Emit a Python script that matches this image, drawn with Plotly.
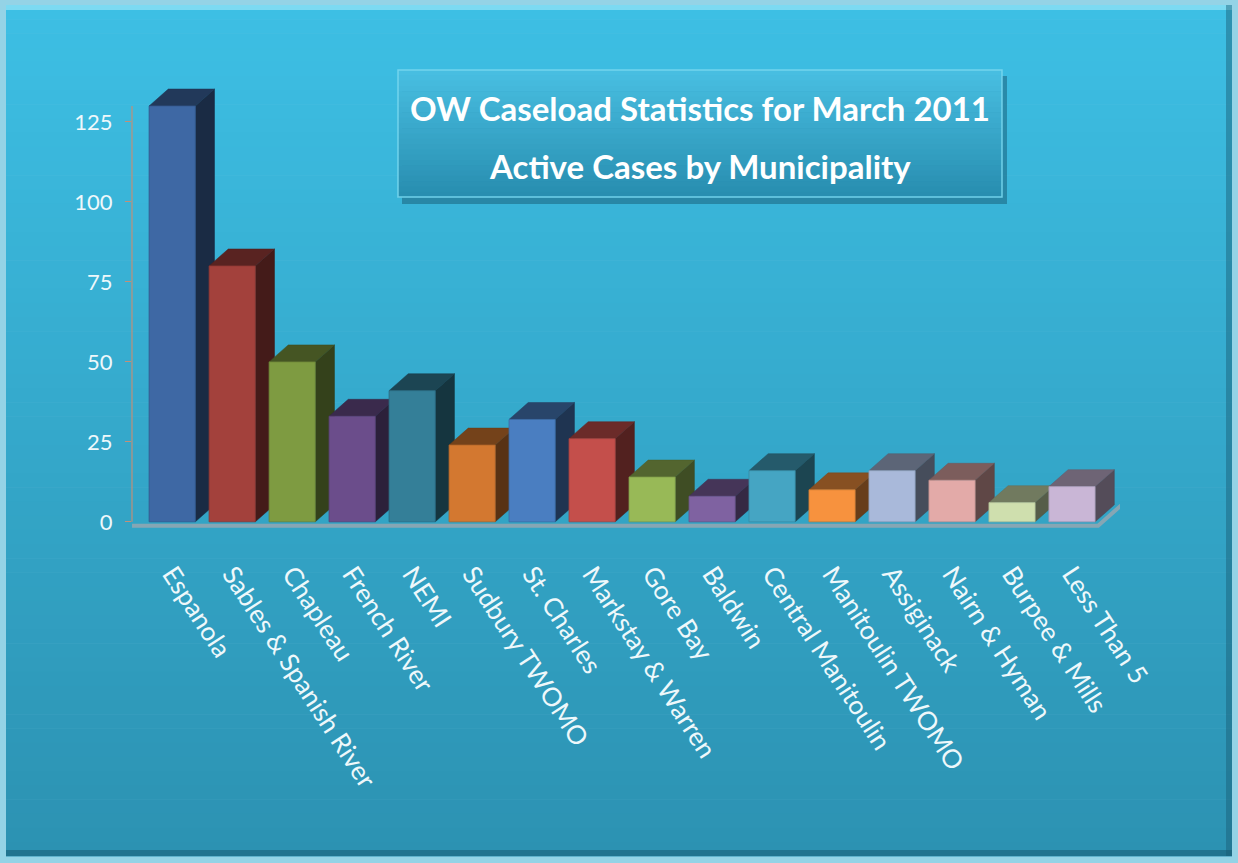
import plotly.graph_objects as go

# ---------------- data ----------------
categories = ["Espanola", "Sables & Spanish River", "Chapleau", "French River", "NEMI",
              "Sudbury TWOMO", "St. Charles", "Markstay & Warren", "Gore Bay", "Baldwin",
              "Central Manitoulin", "Manitoulin TWOMO", "Assiginack", "Nairn & Hyman",
              "Burpee & Mills", "Less Than 5"]
active_cases = [130, 80, 50, 33, 41, 24, 32, 26, 14, 8, 16, 10, 16, 13, 6, 11]
bar_colors = ["#3e68a4", "#a3413c", "#7e9b41", "#6b4d8b", "#347f98", "#d37830",
              "#4a7ec1", "#c44f4b", "#98b957", "#7f62a1", "#45a5c3", "#f7923e",
              "#a9b9da", "#e3aaa8", "#cfdfae", "#c9b6d6"]
y_ticks = [0, 25, 50, 75, 100, 125]
title_lines = ["OW Caseload Statistics for March 2011", "Active Cases by Municipality"]

# ---------------- geometry / style ----------------
W, H = 1238, 863
ML, MR, MT, MB = 132, 118, 74, 322
PW, PH = W - ML - MR, H - MT - MB
X_RANGE = [-0.67, 15.8]
Y_RANGE = [-6, 140]
BAR_W = 0.77          # front face width (category units)
DEPTH_X = 0.32        # 3-D depth offset (category units)
DEPTH_Y = 5.3         # 3-D depth offset (value units)
FONT = "Lato"


def px_x(x):
    return (x - ML) / PW


def px_y(y):
    return (H - MB - y) / PH


def shade(hexc, f):
    h = hexc.lstrip("#")
    r, g, b = (int(h[i:i + 2], 16) for i in (0, 2, 4))
    return "rgb(%d,%d,%d)" % (r * f, g * f, b * f)


def mix(c1, c2, t):
    return "rgb(%d,%d,%d)" % tuple(round(a + (b - a) * t) for a, b in zip(c1, c2))


fig = go.Figure()

# floor slab edge
x_last = len(categories) - 1 + BAR_W / 2
fig.add_trace(go.Scatter(
    x=[X_RANGE[0], x_last + 0.05, x_last + 0.05 + DEPTH_X * 1.6],
    y=[-1.2, -1.2, -1.2 + DEPTH_Y * 1.6],
    mode="lines", line=dict(color="#86a6b4", width=4),
    hoverinfo="skip", showlegend=False))

# 3-D bars built from the data
for i, (v, c) in enumerate(zip(active_cases, bar_colors)):
    xl, xr = i - BAR_W / 2, i + BAR_W / 2
    # side face
    fig.add_trace(go.Scatter(
        x=[xr, xr + DEPTH_X, xr + DEPTH_X, xr, xr],
        y=[0, DEPTH_Y, v + DEPTH_Y, v, 0],
        fill="toself", fillcolor=shade(c, 0.42), mode="lines",
        line=dict(width=0.5, color=shade(c, 0.38)),
        hoverinfo="skip", showlegend=False))
    # top face
    fig.add_trace(go.Scatter(
        x=[xl, xr, xr + DEPTH_X, xl + DEPTH_X, xl],
        y=[v, v, v + DEPTH_Y, v + DEPTH_Y, v],
        fill="toself", fillcolor=shade(c, 0.55), mode="lines",
        line=dict(width=0.5, color=shade(c, 0.5)),
        hoverinfo="skip", showlegend=False))
    # front face
    fig.add_trace(go.Scatter(
        x=[xl, xr, xr, xl, xl],
        y=[0, 0, v, v, 0],
        fill="toself", fillcolor=c, mode="lines",
        line=dict(width=0.8, color=shade(c, 0.85)),
        name=categories[i], hovertemplate="%{text}<extra></extra>",
        text=[f"{categories[i]}: {v}"] * 5, showlegend=False))

shapes = []
# outer frame
shapes.append(dict(type="rect", xref="paper", yref="paper", layer="below",
                   x0=px_x(0), x1=px_x(W), y0=px_y(H), y1=px_y(0),
                   fillcolor="#94d3e6", line=dict(width=0)))
# inner background gradient
top_c, bot_c = (61, 191, 228), (44, 146, 178)
N = 60
iy0, iy1, ix0, ix1 = 5, H - 7, 6, W - 6
for k in range(N):
    a = iy0 + (iy1 - iy0) * k / N
    b = iy0 + (iy1 - iy0) * (k + 1) / N
    shapes.append(dict(type="rect", xref="paper", yref="paper", layer="below",
                       x0=px_x(ix0), x1=px_x(ix1), y0=px_y(b + 0.5), y1=px_y(a),
                       fillcolor=mix(top_c, bot_c, k / (N - 1)), line=dict(width=0)))
# highlight along top edge & dark inner edge at bottom/right
shapes.append(dict(type="rect", xref="paper", yref="paper", layer="below",
                   x0=px_x(ix0), x1=px_x(ix1), y0=px_y(iy0 + 5), y1=px_y(iy0),
                   fillcolor="rgba(140,225,245,0.8)", line=dict(width=0)))
shapes.append(dict(type="rect", xref="paper", yref="paper", layer="below",
                   x0=px_x(ix0), x1=px_x(ix1), y0=px_y(iy1), y1=px_y(iy1 - 6),
                   fillcolor="rgba(25,90,115,0.55)", line=dict(width=0)))
shapes.append(dict(type="rect", xref="paper", yref="paper", layer="below",
                   x0=px_x(ix1 - 6), x1=px_x(ix1), y0=px_y(iy1), y1=px_y(iy0),
                   fillcolor="rgba(25,90,115,0.45)", line=dict(width=0)))

# title box: shadow + gradient body
bx0, bx1, by0, by1 = 398, 1002, 70, 197
shapes.append(dict(type="rect", xref="paper", yref="paper", layer="below",
                   x0=px_x(bx0 + 4), x1=px_x(bx1 + 5), y0=px_y(by1 + 7), y1=px_y(by0 + 6),
                   fillcolor="rgba(20,80,105,0.45)", line=dict(width=0)))
btop, bbot = (72, 190, 225), (40, 142, 176)
NB = 24
for k in range(NB):
    a = by0 + (by1 - by0) * k / NB
    b = by0 + (by1 - by0) * (k + 1) / NB
    shapes.append(dict(type="rect", xref="paper", yref="paper", layer="below",
                       x0=px_x(bx0), x1=px_x(bx1), y0=px_y(b + 0.5), y1=px_y(a),
                       fillcolor=mix(btop, bbot, k / (NB - 1)), line=dict(width=0)))
shapes.append(dict(type="rect", xref="paper", yref="paper", layer="below",
                   x0=px_x(bx0), x1=px_x(bx1), y0=px_y(by1), y1=px_y(by0),
                   fillcolor="rgba(0,0,0,0)", line=dict(width=1.5, color="rgba(120,215,240,0.9)")))

# value axis line
shapes.append(dict(type="line", xref="paper", yref="y", layer="below",
                   x0=0, x1=0, y0=0, y1=130, line=dict(color="#c0907a", width=1.2)))

annotations = []
for t, yc in zip(title_lines, [108, 166]):
    annotations.append(dict(text="<b>%s</b>" % t, xref="paper", yref="paper",
                            x=px_x(700), y=px_y(yc), showarrow=False,
                            xanchor="center", yanchor="middle",
                            font=dict(family=FONT, size=33, color="white")))

fig.update_layout(
    width=W, height=H,
    margin=dict(l=ML, r=MR, t=MT, b=MB, pad=0),
    paper_bgcolor="#94d3e6", plot_bgcolor="rgba(0,0,0,0)",
    shapes=shapes, annotations=annotations,
    showlegend=False,
    xaxis=dict(range=X_RANGE, tickmode="array", tickvals=list(range(len(categories))),
               ticktext=categories, tickangle=57, showgrid=False, zeroline=False,
               showline=False, ticks="", ticklabelstandoff=12, automargin=False,
               tickfont=dict(family=FONT, size=26, color="#eef8fb"), fixedrange=True),
    yaxis=dict(range=Y_RANGE, tickmode="array", tickvals=y_ticks, showgrid=False,
               zeroline=False, showline=False, ticks="outside", ticklen=6,
               tickcolor="#c0907a", ticklabelstandoff=8, automargin=False,
               tickfont=dict(family=FONT, size=22, color="#eef8fb"), fixedrange=True),
)

fig.write_html("out.html", config={"displayModeBar": False},
               post_script="document.body.style.margin='0';")
